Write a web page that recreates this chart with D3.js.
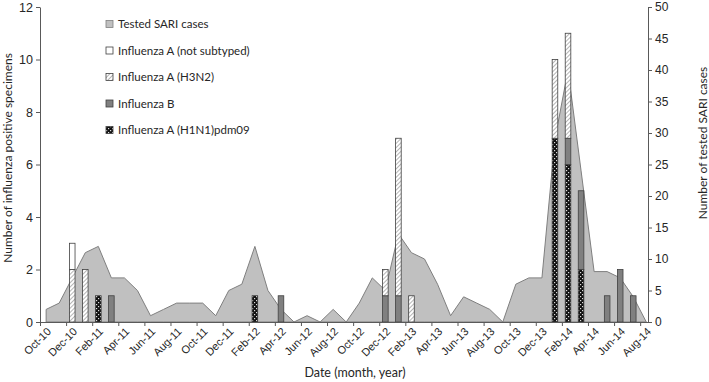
<!DOCTYPE html>
<html>
<head>
<meta charset="utf-8">
<script src="https://cdn.jsdelivr.net/npm/d3@7"></script>
<style>
  body { margin: 0; background: #fff; }
  svg { display: block; font-family: Lato, "Open Sans", sans-serif; }
  .tick text { fill: #262626; }
  .axis path, .axis line { stroke: #595959; }
</style>
</head>
<body>
<div class="chart"></div>
<script>
// month categories, Oct-10 .. Aug-14
var months = ["Oct-10","Nov-10","Dec-10","Jan-11","Feb-11","Mar-11","Apr-11","May-11","Jun-11","Jul-11","Aug-11","Sep-11",
  "Oct-11","Nov-11","Dec-11","Jan-12","Feb-12","Mar-12","Apr-12","May-12","Jun-12","Jul-12","Aug-12","Sep-12",
  "Oct-12","Nov-12","Dec-12","Jan-13","Feb-13","Mar-13","Apr-13","May-13","Jun-13","Jul-13","Aug-13","Sep-13",
  "Oct-13","Nov-13","Dec-13","Jan-14","Feb-14","Mar-14","Apr-14","May-14","Jun-14","Jul-14","Aug-14"];

// tested SARI cases per month (right axis)
var sariCases = [2,3,7,11,12,7,7,5,1,2,3,3,
  3,1,5,6,12,5,2,0,1,0,2,0,
  3,7,5,14,11,10,6,1,4,3,2,0,
  6,7,7,29,40,24,8,8,7,4,0];

// influenza positive specimens per month (left axis), stacked bottom to top
var h1n1 = {"Feb-11":1,"Feb-12":1,"Jan-14":7,"Feb-14":6,"Mar-14":2};
var fluB = {"Mar-11":1,"Apr-12":1,"Dec-12":1,"Jan-13":1,"Feb-14":1,"Mar-14":3,"May-14":1,"Jun-14":2,"Jul-14":1};
var h3n2 = {"Dec-10":2,"Jan-11":2,"Dec-12":1,"Jan-13":6,"Feb-13":1,"Jan-14":3,"Feb-14":4};
var notSubtyped = {"Dec-10":1};

var leftTicks = [0,2,4,6,8,10,12];
var rightTicks = [0,5,10,15,20,25,30,35,40,45,50];

var W = 709, H = 382;
var plot = {left: 40, right: 648, top: 7, bottom: 322};

var svg = d3.select(".chart").append("svg")
    .attr("width", W)
    .attr("height", H);

var defs = svg.append("defs");

// diagonal hatch for H3N2
var hatch = defs.append("pattern")
    .attr("id", "hatch")
    .attr("patternUnits", "userSpaceOnUse")
    .attr("width", 3).attr("height", 3)
    .attr("patternTransform", "rotate(45)");
hatch.append("rect").attr("width", 3).attr("height", 3).attr("fill", "#fff");
hatch.append("line").attr("x1", 0).attr("y1", 0).attr("x2", 0).attr("y2", 3)
    .attr("stroke", "#777").attr("stroke-width", 1.1);

// dotted black for H1N1
var dots = defs.append("pattern")
    .attr("id", "dots")
    .attr("patternUnits", "userSpaceOnUse")
    .attr("width", 4).attr("height", 4);
dots.append("rect").attr("width", 4).attr("height", 4).attr("fill", "#111");
dots.append("rect").attr("x", 0).attr("y", 0).attr("width", 1.2).attr("height", 1.2).attr("fill", "#ddd");
dots.append("rect").attr("x", 2).attr("y", 2).attr("width", 1.2).attr("height", 1.2).attr("fill", "#ddd");

var x = d3.scaleLinear()
    .domain([0, 46.6])
    .range([plot.left, plot.right]);

var yL = d3.scaleLinear().domain([0, 12]).range([plot.bottom, plot.top]);
var yR = d3.scaleLinear().domain([0, 50]).range([plot.bottom, plot.top]);

var centerOf = i => x(i + 0.47);

// SARI area
var area = d3.area()
    .x((d, i) => centerOf(i))
    .y0(yR(0))
    .y1(d => yR(d));

svg.append("path")
    .datum(sariCases)
    .attr("d", area)
    .attr("fill", "#c0c0c0")
    .attr("stroke", "#7f7f7f")
    .attr("stroke-width", 1);

// stacked bars
var keys = ["h1n1", "fluB", "h3n2", "notSubtyped"];
var series = {h1n1: h1n1, fluB: fluB, h3n2: h3n2, notSubtyped: notSubtyped};
var fills = {h1n1: "url(#dots)", fluB: "#808080", h3n2: "url(#hatch)", notSubtyped: "#fff"};

var table = months.map(m => {
    var row = {month: m};
    keys.forEach(k => row[k] = series[k][m] || 0);
    return row;
});

var stacked = d3.stack().keys(keys)(table);
var barW = 5.6;

stacked.forEach(layer => {
    svg.append("g").selectAll("rect")
        .data(layer.filter(d => d[1] > d[0]))
        .enter()
        .append("rect")
        .attr("x", d => centerOf(months.indexOf(d.data.month)) - barW / 2)
        .attr("width", barW)
        .attr("y", d => yL(d[1]))
        .attr("height", d => yL(d[0]) - yL(d[1]))
        .attr("fill", fills[layer.key])
        .attr("stroke", "#404040")
        .attr("stroke-width", 0.8);
});

// axes
var xAxis = svg.append("g")
    .attr("class", "axis")
    .attr("transform", "translate(0," + plot.bottom + ")")
    .call(d3.axisBottom(x)
        .tickValues(d3.range(0, months.length, 2))
        .tickFormat(i => months[i])
        .tickSize(4)
        .tickSizeOuter(0));

xAxis.selectAll("text")
    .attr("font-size", 11)
    .attr("text-anchor", "end")
    .attr("dy", "0.35em")
    .attr("transform", "translate(5,4) rotate(-45)")
    .attr("x", 0)
    .attr("y", 5);

var leftAxis = svg.append("g")
    .attr("class", "axis")
    .attr("transform", "translate(" + plot.left + ",0)")
    .call(d3.axisLeft(yL).tickValues(leftTicks).tickSize(4).tickSizeOuter(0));
leftAxis.selectAll("text").attr("font-size", 12.5);

var rightAxis = svg.append("g")
    .attr("class", "axis")
    .attr("transform", "translate(" + plot.right + ",0)")
    .call(d3.axisRight(yR).tickValues(rightTicks).tickSize(4).tickSizeOuter(0));
rightAxis.selectAll("text").attr("font-size", 12);

svg.selectAll(".domain").attr("stroke", "#595959");

// axis titles
svg.append("text")
    .attr("transform", "translate(12,158) rotate(-90)")
    .attr("text-anchor", "middle")
    .attr("font-size", 12)
    .attr("fill", "#262626")
    .text("Number of influenza positive specimens");

svg.append("text")
    .attr("transform", "translate(707,143) rotate(-90)")
    .attr("text-anchor", "middle")
    .attr("font-size", 12)
    .attr("fill", "#262626")
    .text("Number of tested SARI cases");

svg.append("text")
    .attr("x", 355)
    .attr("y", 377)
    .attr("text-anchor", "middle")
    .attr("font-size", 12.5)
    .attr("fill", "#262626")
    .text("Date (month, year)");

// legend
var legendItems = [
    {label: "Tested SARI cases", fill: "#c0c0c0", stroke: "#7f7f7f"},
    {label: "Influenza A (not subtyped)", fill: "#fff", stroke: "#404040"},
    {label: "Influenza A (H3N2)", fill: "url(#hatch)", stroke: "#404040"},
    {label: "Influenza B", fill: "#808080", stroke: "#404040"},
    {label: "Influenza A (H1N1)pdm09", fill: "url(#dots)", stroke: "#404040"}
];

var legend = svg.append("g").attr("transform", "translate(106,24)");
var li = legend.selectAll("g")
    .data(legendItems)
    .enter()
    .append("g")
    .attr("transform", (d, i) => "translate(0," + (i * 26.5) + ")");

li.append("rect")
    .attr("x", 0).attr("y", -3.5)
    .attr("width", 7).attr("height", 7)
    .attr("fill", d => d.fill)
    .attr("stroke", d => d.stroke)
    .attr("stroke-width", 0.8);

li.append("text")
    .attr("x", 12)
    .attr("dy", "0.35em")
    .attr("font-size", 11.5)
    .attr("fill", "#262626")
    .text(d => d.label);
</script>
</body>
</html>
